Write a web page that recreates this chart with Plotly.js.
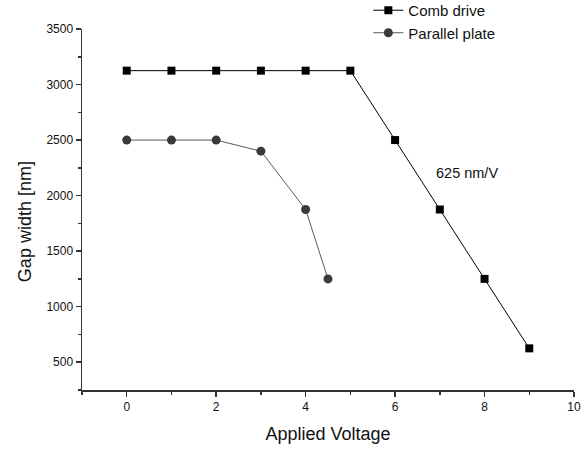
<!DOCTYPE html>
<html>
<head>
<meta charset="utf-8">
<script src="https://cdn.plot.ly/plotly-3.0.1.min.js"></script>
<style>html,body{margin:0;padding:0;background:#fff;}#chart{width:585px;height:450px;}</style>
</head>
<body>
<div id="chart"></div>
<script>
var combVoltage = [0, 1, 2, 3, 4, 5, 6, 7, 8, 9];
var combGap = [3125, 3125, 3125, 3125, 3125, 3125, 2500, 1875, 1250, 625];
var plateVoltage = [0, 1, 2, 3, 4, 4.5];
var plateGap = [2500, 2500, 2500, 2400, 1875, 1250];
var seriesNames = ['Comb drive', 'Parallel plate'];
var slopeLabel = '625 nm/V';
var xTitle = 'Applied Voltage';
var yTitle = 'Gap width [nm]';

var font = 'Arial, "Liberation Sans", Helvetica, sans-serif';

var traces = [
  {x: combVoltage, y: combGap, name: seriesNames[0], type: 'scatter', mode: 'lines+markers',
   line: {color: '#000', width: 1}, marker: {symbol: 'square', size: 8, color: '#000'}},
  {x: plateVoltage, y: plateGap, name: seriesNames[1], type: 'scatter', mode: 'lines+markers',
   line: {color: '#5a5a5a', width: 1}, marker: {symbol: 'circle', size: 9, color: '#3a3a3a'}}
];

var layout = {
  width: 585, height: 450,
  margin: {l: 82, r: 11, t: 29, b: 60, autoexpand: false},
  paper_bgcolor: '#fff', plot_bgcolor: '#fff',
  font: {family: font, color: '#111'},
  showlegend: true,
  legend: {x: 0.582, xanchor: 'left', y: 1.097, yanchor: 'top', bgcolor: 'rgba(0,0,0,0)',
           font: {size: 15, family: font, color: '#111'}, tracegroupgap: 0},
  xaxis: {range: [-1, 10], tick0: 0, dtick: 2, ticks: 'outside', ticklen: 5, tickwidth: 1.5,
          tickcolor: '#333', showline: true, linecolor: '#333', linewidth: 1.5, showgrid: false,
          zeroline: false, tickfont: {size: 12, family: font, color: '#111'},
          minor: {dtick: 1, ticks: 'outside', ticklen: 3, tickwidth: 1.5, tickcolor: '#333', showgrid: false},
          title: {text: xTitle, font: {size: 18, family: font, color: '#111'}, standoff: 14}},
  yaxis: {range: [250, 3500], tick0: 0, dtick: 500, ticks: 'outside', ticklen: 5, tickwidth: 1.5,
          tickcolor: '#333', showline: true, linecolor: '#333', linewidth: 1.5, showgrid: false,
          zeroline: false, tickfont: {size: 12, family: font, color: '#111'},
          minor: {dtick: 250, ticks: 'outside', ticklen: 3, tickwidth: 1.5, tickcolor: '#333', showgrid: false}},
  annotations: [
    {x: 7.6, y: 2200, xref: 'x', yref: 'y', text: slopeLabel, showarrow: false,
     font: {size: 14.5, family: font, color: '#111'}},
    {x: 0, y: 0.465, xref: 'paper', yref: 'paper', xshift: -57, text: yTitle, textangle: -90,
     showarrow: false, xanchor: 'center', yanchor: 'middle',
     font: {size: 18, family: font, color: '#111'}}
  ]
};

Plotly.newPlot('chart', traces, layout, {displayModeBar: false, staticPlot: true});
</script>
</body>
</html>
